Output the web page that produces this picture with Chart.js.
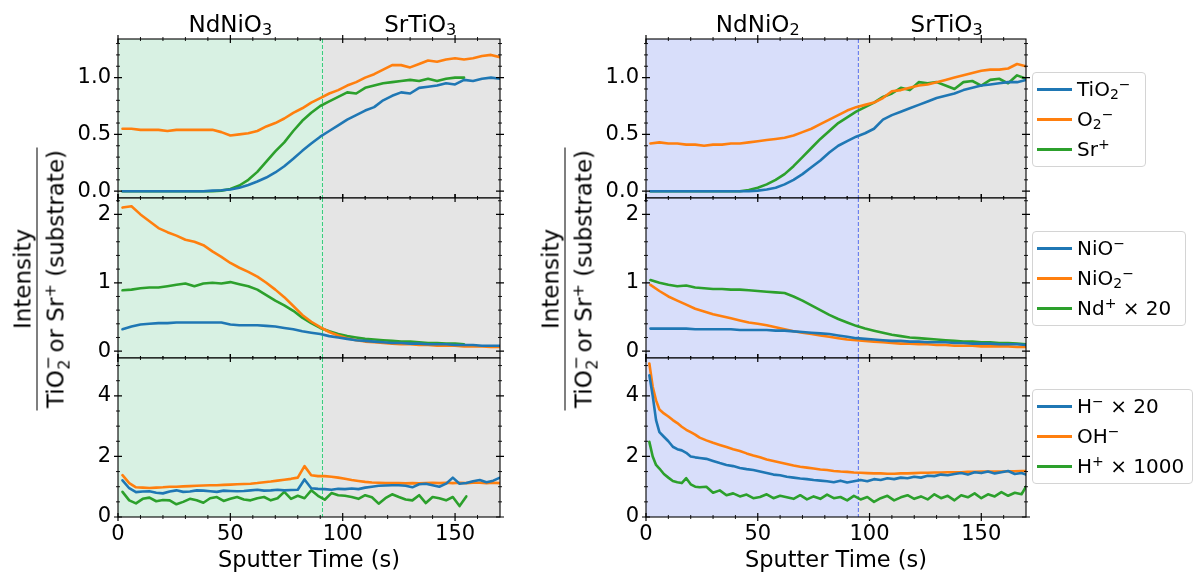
<!DOCTYPE html>
<html><head><meta charset="utf-8">
<script src="https://cdn.jsdelivr.net/npm/chart.js@4.4.1/dist/chart.umd.min.js"></script>
<style>
html,body{margin:0;padding:0;background:#fff;width:1195px;height:577px;overflow:hidden;position:relative;font-family:'DejaVu Sans',sans-serif;color:#000}
canvas{position:absolute}
sub,sup{font-size:70%;line-height:0;position:relative;vertical-align:baseline}
sub{top:0.22em} sup{top:-0.5em}
.ttl{position:absolute;font-size:23px;line-height:23px;white-space:nowrap;transform:translateX(-50%)}
.frac{position:absolute;width:263px;height:66px;transform:rotate(-90deg);font-size:23px;text-align:center;white-space:nowrap}
.frac .num{height:29px;line-height:30px;border-bottom:1.2px solid #000}
.frac .den{height:36px;line-height:36px}
.ss{display:inline-block;position:relative;width:0.45em;height:0}
.ss span{position:absolute;left:0.02em;font-size:70%;line-height:1}
.ss .u{bottom:0.45em} .ss .d{bottom:-0.55em}
.legend{position:absolute;box-sizing:border-box;border:1px solid #d4d4d4;border-radius:4px;background:rgba(255,255,255,0.85);padding-top:1px;font-size:20px}
.legend .row{height:30px;line-height:30px;white-space:nowrap;padding-left:4px}
.legend .hd{display:inline-block;width:35px;height:3px;vertical-align:middle;margin-right:5px;position:relative;top:-1px}
</style>
</head><body>
<script>
// ---------------- data ----------------
const timeA = [2,6,10,14,18,22,26,30,34,38,42,46,50,54,58,62,66,70,74,78,82,86,90,94,98,102,106,110,114,118,122,126,130,134,138,142,146,150,154,158,162,166,170];
const timeB = [2,5,8,11,14,17,20,23,26,29,32,35,38,41,44,47,50,53,56,59,62,65,68,71,74,77,80,83,86,89,92,95,98,101,104,107,110,113,116,119,122,125,128,131,134,137,140,143,146,149,152,155,158,161,164,167,170];
const timeC = [1.5,3,4.5,6,8,10,12,14,16,18,20,22,24,27,30,33,36,39,42,45,48,51,54,57,60,63,66,69,72,75,78,81,84,87,90,93,96,99,102,105,108,111,114,117,120,123,126,129,132,135,138,141,144,147,150,153,156,159,162,165,168,170];

// NdNiO3 film (left column)
const nno3_TiO2 = [0,0,0,0,0,0,0,0,0,0,0.005,0.008,0.015,0.03,0.055,0.085,0.12,0.165,0.22,0.285,0.355,0.42,0.48,0.53,0.58,0.63,0.67,0.71,0.74,0.80,0.84,0.87,0.86,0.91,0.92,0.93,0.95,0.94,0.98,0.97,0.99,1.0,0.99];
const nno3_O2 = [0.55,0.55,0.54,0.54,0.54,0.53,0.54,0.54,0.54,0.54,0.54,0.52,0.49,0.50,0.51,0.53,0.57,0.60,0.64,0.69,0.73,0.78,0.82,0.86,0.89,0.93,0.96,1.0,1.03,1.07,1.11,1.11,1.09,1.12,1.15,1.14,1.16,1.17,1.16,1.17,1.19,1.20,1.18];
const nno3_Sr = [0,0,0,0,0,0,0,0,0,0,0,0.005,0.02,0.05,0.10,0.17,0.26,0.35,0.43,0.53,0.62,0.69,0.75,0.79,0.83,0.87,0.86,0.91,0.93,0.95,0.96,0.97,0.98,0.97,0.99,0.97,0.99,1.0,1.0,null,null,null,null];
const nno3_NiO = [0.32,0.36,0.39,0.40,0.41,0.41,0.42,0.42,0.42,0.42,0.42,0.42,0.39,0.38,0.38,0.38,0.37,0.36,0.34,0.32,0.29,0.27,0.25,0.22,0.20,0.18,0.16,0.15,0.14,0.13,0.12,0.12,0.11,0.11,0.10,0.10,0.10,0.09,0.09,0.09,0.08,0.08,0.08];
const nno3_NiO2 = [2.10,2.12,2.00,1.90,1.80,1.74,1.69,1.63,1.60,1.55,1.46,1.38,1.29,1.22,1.16,1.09,1.00,0.90,0.79,0.66,0.53,0.43,0.35,0.28,0.23,0.19,0.16,0.14,0.13,0.12,0.11,0.10,0.10,0.09,0.09,0.08,0.08,0.08,0.07,0.07,0.07,0.06,0.06];
const nno3_Nd = [0.89,0.90,0.92,0.93,0.93,0.95,0.97,0.99,0.95,0.99,1.00,0.99,1.01,0.98,0.95,0.90,0.82,0.74,0.67,0.59,0.49,0.41,0.34,0.29,0.25,0.22,0.20,0.18,0.17,0.16,0.15,0.14,0.14,0.13,0.12,0.12,0.11,0.11,0.10,null,null,null,null];
const nno3_H = [1.21,0.95,0.82,0.84,0.85,0.80,0.78,0.84,0.88,0.83,0.84,0.88,0.87,0.85,0.83,0.87,0.86,0.85,0.86,0.88,0.90,0.87,0.88,0.90,0.88,0.89,0.90,1.24,0.95,0.93,0.92,0.90,0.93,0.92,0.94,0.92,0.97,1.00,1.03,1.04,1.05,1.05,1.03,0.98,1.08,1.10,1.05,1.00,1.10,1.30,1.10,1.12,1.18,1.22,1.15,1.20,1.30];
const nno3_OH = [1.38,1.12,0.98,0.97,0.96,0.97,0.98,1.00,1.00,1.01,1.02,1.03,1.04,1.05,1.05,1.06,1.07,1.08,1.09,1.10,1.12,1.15,1.17,1.20,1.23,1.26,1.30,1.68,1.38,1.35,1.35,1.33,1.30,1.26,1.22,1.19,1.16,1.14,1.13,1.12,1.12,1.12,1.11,1.12,1.11,1.12,1.13,1.12,1.13,1.12,1.13,1.12,1.13,1.13,1.12,1.13,1.12];
const nno3_Hp = [0.83,0.55,0.45,0.60,0.64,0.52,0.56,0.55,0.42,0.50,0.60,0.55,0.47,0.62,0.66,0.53,0.60,0.66,0.58,0.55,0.62,0.66,0.55,0.62,0.83,0.60,0.70,0.62,0.88,0.70,0.57,0.79,0.72,0.70,0.66,0.60,0.72,0.65,0.44,0.62,0.75,0.66,0.58,0.55,0.72,0.46,0.66,0.62,0.55,0.66,0.36,0.68,null,null,null,null,null];

// NdNiO2 film (right column)
const nno2_TiO2 = [0,0,0,0,0,0,0,0,0,0,0,0,0.005,0.015,0.03,0.06,0.10,0.15,0.21,0.27,0.34,0.40,0.44,0.48,0.51,0.55,0.63,0.67,0.70,0.73,0.76,0.79,0.82,0.84,0.86,0.89,0.91,0.93,0.94,0.95,0.96,0.96,0.98];
const nno2_O2 = [0.42,0.43,0.42,0.42,0.41,0.41,0.40,0.41,0.41,0.42,0.42,0.43,0.44,0.45,0.46,0.47,0.49,0.52,0.55,0.59,0.63,0.67,0.71,0.74,0.76,0.78,0.82,0.88,0.89,0.91,0.93,0.94,0.96,0.98,1.00,1.02,1.04,1.06,1.07,1.07,1.08,1.12,1.10];
const nno2_Sr = [0,0,0,0,0,0,0,0,0,0,0,0.01,0.03,0.06,0.10,0.15,0.22,0.30,0.38,0.46,0.53,0.60,0.65,0.70,0.74,0.78,0.83,0.86,0.91,0.89,0.96,0.95,0.96,0.93,0.90,0.96,0.97,0.93,0.98,0.99,0.95,1.02,0.99];
const nno2_NiO = [0.33,0.33,0.33,0.33,0.33,0.32,0.32,0.32,0.32,0.32,0.31,0.31,0.31,0.31,0.30,0.30,0.29,0.28,0.27,0.26,0.25,0.23,0.21,0.19,0.18,0.17,0.16,0.15,0.15,0.14,0.14,0.13,0.13,0.13,0.12,0.12,0.11,0.11,0.11,0.10,0.10,0.10,0.09];
const nno2_NiO2 = [0.97,0.88,0.80,0.74,0.68,0.62,0.58,0.54,0.51,0.48,0.45,0.42,0.40,0.38,0.35,0.32,0.29,0.27,0.25,0.23,0.21,0.19,0.17,0.16,0.15,0.14,0.13,0.12,0.11,0.11,0.10,0.10,0.09,0.09,0.08,0.08,0.08,0.07,0.07,0.07,0.07,0.06,0.06];
const nno2_Nd = [1.04,1.00,0.97,0.95,0.96,0.93,0.92,0.91,0.91,0.90,0.90,0.89,0.88,0.87,0.86,0.85,0.80,0.74,0.67,0.60,0.53,0.47,0.42,0.37,0.33,0.30,0.27,0.24,0.22,0.20,0.19,0.18,0.17,0.16,0.15,0.14,0.14,0.13,0.13,0.12,0.12,0.11,0.10];
const nno2_H = [4.68,4.0,3.2,2.80,2.65,2.50,2.32,2.24,2.20,2.12,2.00,1.97,1.95,1.92,1.85,1.78,1.72,1.68,1.62,1.58,1.55,1.50,1.45,1.40,1.38,1.33,1.30,1.27,1.25,1.22,1.20,1.18,1.15,1.20,1.14,1.18,1.22,1.18,1.25,1.22,1.28,1.25,1.30,1.28,1.33,1.30,1.36,1.35,1.40,1.38,1.42,1.45,1.40,1.48,1.45,1.50,1.44,1.48,1.52,1.42,1.45,1.40];
const nno2_OH = [5.07,4.3,3.85,3.55,3.42,3.32,3.20,3.10,2.98,2.88,2.80,2.72,2.62,2.53,2.45,2.38,2.31,2.24,2.18,2.10,2.03,1.97,1.90,1.85,1.80,1.75,1.70,1.66,1.63,1.60,1.57,1.55,1.52,1.50,1.49,1.47,1.46,1.45,1.44,1.44,1.43,1.43,1.44,1.44,1.45,1.46,1.46,1.47,1.47,1.48,1.48,1.48,1.49,1.49,1.50,1.50,1.50,1.50,1.51,1.51,1.52,1.52];
const nno2_Hp = [2.48,2.0,1.72,1.60,1.42,1.30,1.19,1.15,1.12,1.28,1.08,1.00,0.98,1.00,0.80,0.88,0.72,0.78,0.68,0.74,0.62,0.66,0.75,0.62,0.70,0.65,0.60,0.72,0.58,0.68,0.60,0.74,0.62,0.66,0.55,0.70,0.58,0.66,0.50,0.62,0.70,0.55,0.65,0.72,0.60,0.68,0.58,0.75,0.62,0.70,0.55,0.72,0.65,0.78,0.62,0.75,0.68,0.82,0.70,0.80,0.75,1.00];

// labels
const labelsTop = ['TiO_2^−', 'O_2^−', 'Sr^+'];
const labelsMid = ['NiO^−', 'NiO_2^−', 'Nd^+ × 20'];
const labelsBot = ['H^− × 20', 'OH^−', 'H^+ × 1000'];
const xTickValues = [0, 50, 100, 150];
const yTicksTop = [0, 0.5, 1.0];
const yTicksMid = [0, 1, 2];
const yTicksBot = [0, 2, 4];
const filmLabels = ['NdNiO_3', 'NdNiO_2'];
const substrateLabel = 'SrTiO_3';
const boundaries = [91, 95];

// ---------------- drawing ----------------
Chart.defaults.font.family = "'DejaVu Sans', sans-serif";
Chart.defaults.color = '#000';
const COLORS = ['#1f77b4', '#ff7f0e', '#2ca02c'];
const fmtHTML = s => s.replace(/_(\S)/g, '<sub>$1</sub>').replace(/\^(\S)/g, '<sup>$1</sup>');
const plain = s => s.replace(/_(\S)/g, '$1').replace(/\^(\S)/g, '$1');

const rows = {
  top: {T:39, H:159, min:-0.06, max:1.34, major:yTicksTop, minor:0.1, fmt:v=>v.toFixed(1)},
  mid: {T:198, H:160, min:-0.1, max:2.24, major:yTicksMid, minor:0.2, fmt:v=>String(v)},
  bot: {T:358, H:159, min:0, max:5.25, major:yTicksBot, minor:0.5, fmt:v=>String(v)}
};
const cols = [
  {L:118, W:382, boundary:boundaries[0], film:'rgb(216,241,227)', dash:'rgb(55,205,125)'},
  {L:646, W:380, boundary:boundaries[1], film:'rgb(216,222,250)', dash:'rgb(85,110,240)'}
];
const SUBSTRATE = 'rgb(229,229,229)';

const deco = {
  id:'deco',
  beforeDraw(chart, args, o) {
    const {ctx, chartArea:a, scales:{x}} = chart;
    const b = x.getPixelForValue(o.boundary);
    ctx.save();
    ctx.fillStyle = o.film; ctx.fillRect(a.left, a.top, b - a.left, a.bottom - a.top);
    ctx.fillStyle = SUBSTRATE; ctx.fillRect(b, a.top, a.right - b, a.bottom - a.top);
    ctx.restore();
  },
  beforeDatasetsDraw(chart, args, o) {
    const {ctx, chartArea:a, scales:{x}} = chart;
    const b = x.getPixelForValue(o.boundary);
    ctx.save();
    ctx.strokeStyle = o.dash; ctx.lineWidth = 1; ctx.setLineDash([4, 2]);
    ctx.beginPath(); ctx.moveTo(b, a.top); ctx.lineTo(b, a.bottom); ctx.stroke();
    ctx.restore();
  },
  afterDatasetsDraw(chart, args, o) {
    const {ctx, chartArea:a, scales:{x, y}} = chart;
    ctx.save();
    ctx.strokeStyle = '#000';
    ctx.lineWidth = 1.1;
    ctx.strokeRect(a.left, a.top, a.right - a.left, a.bottom - a.top);
    const xs = (vals, h) => { for (const v of vals) { const p = x.getPixelForValue(v);
      ctx.moveTo(p, a.bottom - h); ctx.lineTo(p, a.bottom + h); ctx.moveTo(p, a.top - h); ctx.lineTo(p, a.top + h); } };
    const ys = (vals, h) => { for (const v of vals) { const p = y.getPixelForValue(v);
      ctx.moveTo(a.left - h, p); ctx.lineTo(a.left + h, p); ctx.moveTo(a.right - h, p); ctx.lineTo(a.right + h, p); } };
    ctx.beginPath(); ctx.lineWidth = 1.2;
    xs(xTickValues, 4); ys(o.yMajor, 4); ctx.stroke();
    const xMinor = [], yMinor = [];
    for (let v = 10; v < 170; v += 10) if (v % 50) xMinor.push(v);
    const st = o.yMinorStep;
    for (let k = Math.ceil(o.yMin / st - 1e-9); k * st <= o.yMax + 1e-9; k++) {
      const v = k * st; if (!o.yMajor.some(m => Math.abs(m - v) < 1e-6)) yMinor.push(v);
    }
    ctx.beginPath(); ctx.lineWidth = 0.9;
    xs(xMinor, 2); ys(yMinor, 2); ctx.stroke();
    ctx.restore();
  }
};

function makePanel(ci, rk, times, values, labels, showX) {
  const c = cols[ci], r = rows[rk];
  const PADL = 80, PADT = 12, PADR = 12, PADB = showX ? 58 : 12;
  const w = PADL + c.W + PADR, h = PADT + r.H + PADB;
  const cv = document.createElement('canvas');
  cv.width = w; cv.height = h;
  cv.style.left = (c.L - PADL) + 'px'; cv.style.top = (r.T - PADT) + 'px';
  cv.style.width = w + 'px'; cv.style.height = h + 'px';
  document.body.appendChild(cv);
  const xScale = {
    type:'linear', min:0, max:170, display:showX,
    grid:{display:false, drawTicks:false}, border:{display:false},
    ticks:{font:{size:21}, padding:5, autoSkip:false, maxRotation:0, callback:v => String(v)},
    afterBuildTicks: s => { s.ticks = xTickValues.map(v => ({value:v})); },
    title:{display:true, text:'Sputter Time (s)', font:{size:22.5}, padding:{top:0, bottom:0}}
  };
  if (showX) xScale.afterFit = s => { s.height = PADB; s.paddingLeft = 0; s.paddingRight = 0; };
  return new Chart(cv, {
    type:'line',
    data:{datasets: values.map((vals, i) => ({
      label: plain(labels[i]),
      data: times.map((t, j) => ({x:t, y:vals[j]})),
      borderColor: COLORS[i], backgroundColor: COLORS[i], borderWidth:2.6,
      pointRadius:0, fill:false, tension:0, spanGaps:false,
      borderCapStyle:'round', borderJoinStyle:'round'
    }))},
    options:{
      responsive:false, animation:false, events:[],
      layout:{padding:{left:0, top:PADT, right:PADR, bottom: showX ? 0 : PADB}},
      plugins:{legend:{display:false}, tooltip:{enabled:false},
        deco:{boundary:c.boundary, film:c.film, dash:c.dash, yMajor:r.major, yMinorStep:r.minor, yMin:r.min, yMax:r.max}},
      scales:{
        x: xScale,
        y:{type:'linear', min:r.min, max:r.max,
          grid:{display:false, drawTicks:false}, border:{display:false},
          ticks:{font:{size:21}, padding:7, callback:v => r.fmt(v)},
          afterBuildTicks: s => { s.ticks = r.major.map(v => ({value:v})); },
          afterFit: s => { s.width = PADL; s.paddingTop = 0; s.paddingBottom = 0; }}
      }
    },
    plugins:[deco]
  });
}

const charts = [
  makePanel(0, 'top', timeA, [nno3_TiO2, nno3_O2, nno3_Sr], labelsTop, false),
  makePanel(0, 'mid', timeA, [nno3_NiO, nno3_NiO2, nno3_Nd], labelsMid, false),
  makePanel(0, 'bot', timeB, [nno3_H, nno3_OH, nno3_Hp], labelsBot, true),
  makePanel(1, 'top', timeA, [nno2_TiO2, nno2_O2, nno2_Sr], labelsTop, false),
  makePanel(1, 'mid', timeA, [nno2_NiO, nno2_NiO2, nno2_Nd], labelsMid, false),
  makePanel(1, 'bot', timeC, [nno2_H, nno2_OH, nno2_Hp], labelsBot, true)
];

// region titles above the top panels
[0, 3].forEach((idx, ci) => {
  const ch = charts[idx];
  const off = cols[ci].L - ch.chartArea.left;
  [[50, filmLabels[ci]], [134.5, substrateLabel]].forEach(([t, txt]) => {
    const d = document.createElement('div');
    d.className = 'ttl';
    d.innerHTML = fmtHTML(txt);
    d.style.left = (off + ch.scales.x.getPixelForValue(t)) + 'px';
    d.style.top = '12.5px';
    document.body.appendChild(d);
  });
});

// y-axis fraction labels
[40, 568].forEach(cx => {
  const d = document.createElement('div');
  d.className = 'frac';
  d.style.left = (cx - 131.5) + 'px';
  d.style.top = (278.5 - 33) + 'px';
  d.innerHTML = '<div class="num">Intensity</div><div class="den">TiO<span class="ss"><span class="u">−</span><span class="d">2</span></span> or Sr<sup>+</sup> (substrate)</div>';
  document.body.appendChild(d);
});

// legends
[[labelsTop, 72, 114], [labelsMid, 231, 154], [labelsBot, 389, 161]].forEach(([labs, top, wid]) => {
  const d = document.createElement('div');
  d.className = 'legend';
  d.style.left = '1032px'; d.style.top = top + 'px';
  d.style.width = wid + 'px'; d.style.height = '95px';
  d.innerHTML = labs.map((l, i) => '<div class="row"><span class="hd" style="background:' + COLORS[i] + '"></span>' + fmtHTML(l) + '</div>').join('');
  document.body.appendChild(d);
});
</script>
</body></html>
